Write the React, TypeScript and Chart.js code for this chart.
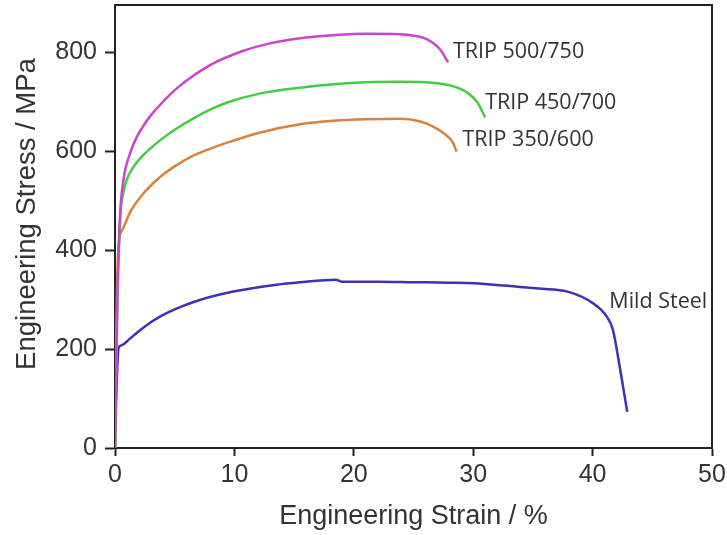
import React, { useEffect, useRef } from 'react';
import { Chart, registerables } from 'chart.js';

Chart.register(...registerables);

// ---- Data ----
const xTicks = [0, 10, 20, 30, 40, 50];
const yTicks = [0, 200, 400, 600, 800];

const trip500Strain = [0, 0.2, 0.4, 0.7, 1.3, 1.8, 2.3, 3.0, 3.8, 5.2, 8.0, 10.7, 12.7, 15.5, 18.3, 21, 23.9, 25.3, 26.1, 27.2, 27.9];
const trip500Stress = [0, 300, 460, 540, 598, 627, 648, 672, 694, 727, 774, 802, 816, 828, 834, 837, 836, 832, 826, 806, 779];

const trip450Strain = [0, 0.2, 0.45, 0.7, 1.0, 1.5, 2.3, 3.0, 3.8, 5.0, 6.5, 8.0, 9.4, 12.1, 15.5, 18.3, 21, 23.9, 26.5, 28.3, 29.5, 30.3, 31];
const trip450Stress = [0, 300, 470, 516, 543, 566, 590, 606, 622, 643, 665, 684, 698, 716, 728, 735, 739, 740, 738, 731, 718, 700, 668];

const trip350Strain = [0, 0.15, 0.35, 0.6, 1.3, 2.3, 3.8, 5.0, 6.5, 8.0, 9.4, 12.1, 15.5, 18.3, 21, 23.9, 25.5, 26.6, 27.6, 28.3, 28.6];
const trip350Stress = [0, 300, 420, 440, 478, 512, 548, 569, 590, 605, 617, 637, 654, 661, 664, 665, 660, 650, 635, 617, 599];

const mildStrain = [0, 0.1, 0.3, 0.6, 1.2, 2.1, 3.0, 3.8, 5.5, 7.1, 9.9, 13.5, 15.5, 18.5, 19, 22, 25, 28, 30, 33.7, 35.5, 37.9, 40, 41.2, 41.7, 42.3, 42.9];
const mildStress = [0, 100, 202, 208, 220, 238, 254, 266, 285, 299, 316, 330, 335, 340, 336, 336, 335, 334, 333, 326, 322, 316, 293, 265, 239, 160, 73];

const seriesNames = ['TRIP 500/750', 'TRIP 450/700', 'TRIP 350/600', 'Mild Steel'];
const seriesColors = ['#cc44cc', '#44cc44', '#d9823e', '#3a32b8'];
// label anchor (strain, stress) for each curve's text
const labelStrain = [28.3, 31.0, 29.1, 41.4];
const labelStress = [800, 698, 623, 296];

const xTitle = 'Engineering Strain / %';
const yTitle = 'Engineering Stress / MPa';

const toPts = (xs: number[], ys: number[]) => xs.map((x, i) => ({ x, y: ys[i] }));

const frameAndLabels = {
  id: 'frameAndLabels',
  afterDraw(chart: any) {
    const { ctx, chartArea, scales } = chart;
    ctx.save();
    ctx.strokeStyle = '#222';
    ctx.lineWidth = 2;
    ctx.beginPath();
    ctx.moveTo(chartArea.left, chartArea.top);
    ctx.lineTo(chartArea.right, chartArea.top);
    ctx.lineTo(chartArea.right, chartArea.bottom);
    ctx.stroke();
    ctx.fillStyle = '#333';
    ctx.font = '21.5px "Open Sans", sans-serif';
    ctx.textAlign = 'left';
    ctx.textBaseline = 'middle';
    seriesNames.forEach((name, i) => {
      ctx.fillText(name, scales.x.getPixelForValue(labelStrain[i]), scales.y.getPixelForValue(labelStress[i]));
    });
    // y axis title
    ctx.translate(27, 214);
    ctx.rotate(-Math.PI / 2);
    ctx.font = '27.5px "Liberation Sans", Arial, sans-serif';
    ctx.textAlign = 'center';
    ctx.fillText(yTitle, 0, 0);
    ctx.restore();
  },
};

export default function App() {
  const ref = useRef<HTMLCanvasElement | null>(null);
  useEffect(() => {
    if (!ref.current) return;
    const datasets = [
      toPts(trip500Strain, trip500Stress),
      toPts(trip450Strain, trip450Stress),
      toPts(trip350Strain, trip350Stress),
      toPts(mildStrain, mildStress),
    ].map((data, i) => ({
      label: seriesNames[i],
      data,
      borderColor: seriesColors[i],
      backgroundColor: seriesColors[i],
      borderWidth: 2.5,
      pointRadius: 0,
      showLine: true,
      fill: false,
      cubicInterpolationMode: 'monotone' as const,
    }));
    const axisFont = { family: '"Liberation Sans", Arial, sans-serif', size: 25 };
    const chart = new Chart(ref.current, {
      type: 'scatter',
      data: { datasets },
      plugins: [frameAndLabels],
      options: {
        animation: false,
        responsive: false,
        devicePixelRatio: 1,
        layout: { padding: { top: 5, right: 15, left: 0, bottom: 0 } },
        plugins: { legend: { display: false }, tooltip: { enabled: false } },
        scales: {
          x: {
            type: 'linear',
            min: 0,
            max: 50,
            afterBuildTicks: (s: any) => { s.ticks = xTicks.map((v) => ({ value: v })); },
            afterFit: (s: any) => { s.height = 87; s.paddingLeft = 0; s.paddingRight = 0; },
            ticks: { font: axisFont, color: '#333', padding: 4, maxRotation: 0 },
            grid: { drawOnChartArea: false, drawTicks: true, tickLength: 8, tickColor: '#222', tickWidth: 2 },
            border: { display: true, color: '#222', width: 2 },
            title: { display: true, text: xTitle, font: { ...axisFont, size: 27 }, color: '#333', padding: { top: 0, bottom: 2 } },
          },
          y: {
            type: 'linear',
            min: 0,
            max: 895,
            afterBuildTicks: (s: any) => { s.ticks = yTicks.map((v) => ({ value: v })); },
            afterFit: (s: any) => { s.width = 115; s.paddingTop = 0; s.paddingBottom = 0; },
            ticks: { font: axisFont, color: '#333', padding: 8 },
            grid: { drawOnChartArea: false, drawTicks: true, tickLength: 10, tickColor: '#222', tickWidth: 2 },
            border: { display: true, color: '#222', width: 2 },
          },
        },
      },
    });
    return () => chart.destroy();
  }, []);
  return (
    <div style={{ position: 'fixed', left: 0, top: 0, width: 727, height: 535, background: '#fff' }}>
      <canvas ref={ref} width={727} height={535} style={{ width: 727, height: 535 }} />
    </div>
  );
}
